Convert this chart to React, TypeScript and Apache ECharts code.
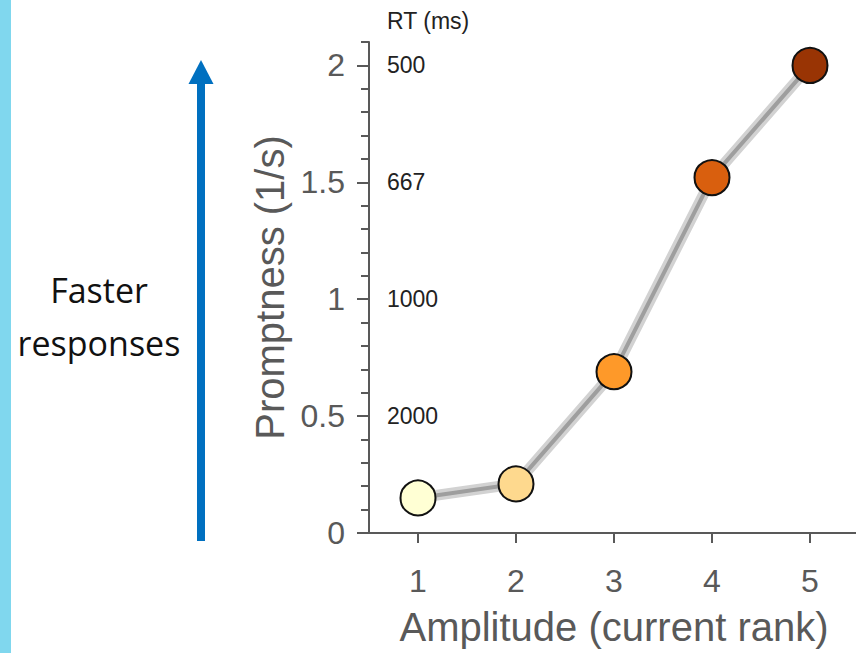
import React, { useEffect, useRef } from "react";
import * as echarts from "echarts";

const categories = ["1", "2", "3", "4", "5"];
const promptness = [0.15, 0.21, 0.69, 1.52, 2.0];
const pointColors = ["#ffffd4", "#fed98e", "#fe9929", "#d95f0e", "#993404"];
const yMax = 2.1;
const rtTitle = "RT (ms)";
const xTitle = "Amplitude (current rank)";
const yTitle = "Promptness (1/s)";
const sideText = "Faster\nresponses";

const AXIS = "#595959";
const FONT = "'Liberation Sans', Arial, sans-serif";

export default function App() {
  const ref = useRef<HTMLDivElement>(null);
  useEffect(() => {
    if (!ref.current) return;
    const chart = echarts.init(ref.current, undefined, { renderer: "svg" });
    const option: any = {
      animation: false,
      grid: { left: 369, top: 42, right: 0, bottom: 120 },
      xAxis: {
        type: "category",
        data: categories,
        boundaryGap: true,
        axisLine: { show: true, lineStyle: { color: AXIS, width: 2 } },
        axisTick: { show: true, alignWithLabel: true, length: 10, lineStyle: { color: AXIS, width: 2 } },
        axisLabel: { color: AXIS, fontSize: 32, fontFamily: FONT, margin: 32 },
        splitLine: { show: false },
        name: xTitle,
        nameLocation: "middle",
        nameGap: 74,
        nameTextStyle: { color: AXIS, fontSize: 40, fontFamily: FONT },
      },
      yAxis: [
        {
          type: "value",
          min: 0,
          max: yMax,
          interval: 0.5,
          position: "left",
          axisLine: { show: true, lineStyle: { color: AXIS, width: 2 } },
          axisTick: { show: true, length: 12, lineStyle: { color: AXIS, width: 2 } },
          axisLabel: { color: AXIS, fontSize: 32, fontFamily: FONT, margin: 24, showMaxLabel: false },
          splitLine: { show: false },
          name: yTitle,
          nameLocation: "middle",
          nameGap: 79,
          nameTextStyle: { color: AXIS, fontSize: 40, fontFamily: FONT },
        },
        {
          type: "value",
          min: 0,
          max: yMax,
          interval: 0.1,
          position: "left",
          axisLine: { show: false },
          axisTick: { show: true, length: 8, lineStyle: { color: AXIS, width: 2 } },
          axisLabel: { show: false },
          splitLine: { show: false },
        },
        {
          type: "value",
          min: 0,
          max: yMax,
          interval: 0.5,
          position: "left",
          axisLine: { show: false },
          axisTick: { show: false },
          axisLabel: {
            inside: true,
            margin: 18,
            color: "#222222",
            fontSize: 23,
            fontFamily: FONT,
            showMaxLabel: false,
            formatter: (v: number) => (v <= 0 ? "" : String(Math.round(1000 / v))),
          },
          splitLine: { show: false },
        },
      ],
      graphic: [
        { type: "rect", shape: { x: 0, y: 0, width: 11, height: 653 }, style: { fill: "#80d7ee" } },
        { type: "rect", shape: { x: 197, y: 83, width: 8, height: 458 }, style: { fill: "#0070c0" } },
        {
          type: "polygon",
          shape: { points: [[201, 60], [188.5, 84], [213.5, 84]] },
          style: { fill: "#0070c0" },
        },
        {
          type: "text",
          x: 99,
          y: 316,
          style: {
            text: sideText,
            fill: "#111111",
            font: "34px 'Open Sans', sans-serif",
            lineHeight: 53,
            align: "center",
            verticalAlign: "middle",
          },
        },
        {
          type: "text",
          x: 387,
          y: 21,
          style: {
            text: rtTitle,
            fill: "#222222",
            font: "23px 'Liberation Sans', Arial, sans-serif",
            align: "left",
            verticalAlign: "middle",
          },
        },
      ],
      series: [
        {
          type: "line",
          data: promptness,
          symbol: "none",
          lineStyle: { color: "#d2d2d2", width: 11 },
          silent: true,
        },
        {
          type: "line",
          data: promptness.map((v, i) => ({
            value: v,
            itemStyle: { color: pointColors[i], borderColor: "#111111", borderWidth: 2 },
          })),
          symbol: "circle",
          symbolSize: 35,
          lineStyle: { color: "#9e9e9e", width: 4 },
        },
      ],
    };
    chart.setOption(option);
    return () => chart.dispose();
  }, []);
  return (
    <div style={{ position: "fixed", left: 0, top: 0, width: 859, height: 653, background: "#fff" }}>
      <div ref={ref} style={{ width: 859, height: 653 }} />
    </div>
  );
}
